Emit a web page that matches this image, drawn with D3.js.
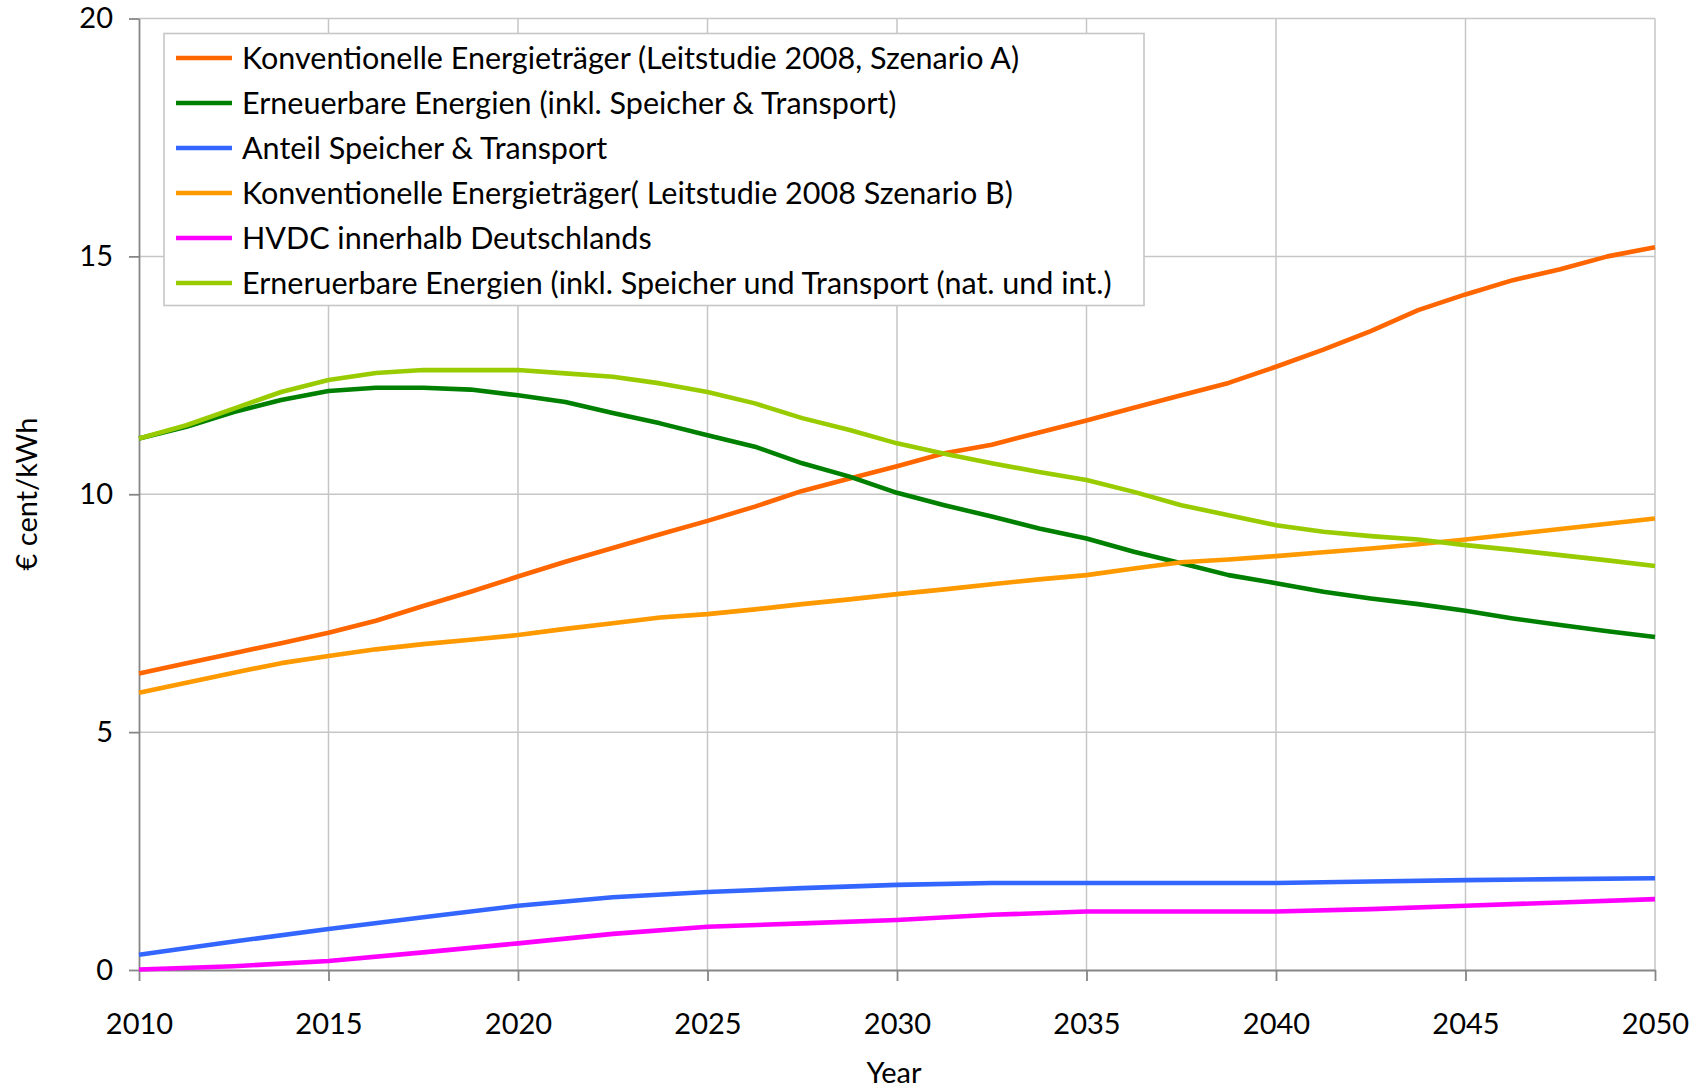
<html>
<head>
  <title>Stromgestehungskosten</title>
  <script src="https://d3js.org/d3.v7.min.js"></script>
</head>
<style>
  body { margin: 0; background: white; }
  text { font-family: Lato, "Open Sans", sans-serif; fill: #000; }
</style>
<body>
<svg width="1704" height="1088"></svg>
<script>

  // years every 1.25 years (x positions of the line vertices)
  let years = [2010, 2011.25, 2012.5, 2013.75, 2015, 2016.25, 2017.5, 2018.75,
    2020, 2021.25, 2022.5, 2023.75, 2025, 2026.25, 2027.5, 2028.75,
    2030, 2031.25, 2032.5, 2033.75, 2035, 2036.25, 2037.5, 2038.75,
    2040, 2041.25, 2042.5, 2043.75, 2045, 2046.25, 2047.5, 2048.75, 2050];

  // the two small series only bend every 2.5 years
  let yearsHalf = [2010, 2012.5, 2015, 2017.5, 2020, 2022.5, 2025, 2027.5,
    2030, 2032.5, 2035, 2037.5, 2040, 2042.5, 2045, 2047.5, 2050];

  let konvA = [6.23, 6.45, 6.66, 6.87, 7.09, 7.34, 7.65, 7.95, 8.27, 8.58, 8.87, 9.16,
    9.44, 9.74, 10.07, 10.33, 10.59, 10.86, 11.04, 11.30, 11.55, 11.82, 12.08, 12.34,
    12.68, 13.04, 13.43, 13.87, 14.20, 14.50, 14.73, 15.00, 15.19];

  let erneuerbar = [11.17, 11.42, 11.73, 11.98, 12.17, 12.24, 12.24, 12.20, 12.08, 11.94,
    11.71, 11.49, 11.24, 11.00, 10.65, 10.37, 10.03, 9.77, 9.53, 9.28, 9.07, 8.79,
    8.55, 8.30, 8.13, 7.95, 7.81, 7.69, 7.55, 7.39, 7.25, 7.12, 7.00];

  let speicher = [0.32, 0.60, 0.86, 1.11, 1.35, 1.53, 1.64, 1.72, 1.79, 1.83, 1.83,
    1.83, 1.83, 1.86, 1.89, 1.91, 1.93];

  let konvB = [5.83, 6.04, 6.25, 6.45, 6.60, 6.74, 6.85, 6.94, 7.04, 7.17, 7.29, 7.41,
    7.48, 7.58, 7.69, 7.79, 7.90, 8.00, 8.11, 8.21, 8.30, 8.44, 8.57, 8.63,
    8.70, 8.78, 8.86, 8.95, 9.05, 9.16, 9.27, 9.38, 9.49];

  let hvdc = [0.01, 0.08, 0.19, 0.37, 0.56, 0.76, 0.91, 0.98, 1.05, 1.16, 1.23,
    1.23, 1.23, 1.28, 1.35, 1.42, 1.49];

  let erneuerbarInt = [11.17, 11.45, 11.80, 12.15, 12.40, 12.55, 12.61, 12.61, 12.61, 12.54,
    12.47, 12.33, 12.15, 11.91, 11.60, 11.35, 11.07, 10.85, 10.65, 10.47, 10.30, 10.05,
    9.77, 9.56, 9.35, 9.21, 9.12, 9.05, 8.93, 8.83, 8.72, 8.61, 8.49];

  let seriesNames = [
    "Konventionelle Energieträger (Leitstudie 2008, Szenario A)",
    "Erneuerbare Energien (inkl. Speicher & Transport)",
    "Anteil Speicher & Transport",
    "Konventionelle Energieträger( Leitstudie 2008 Szenario B)",
    "HVDC innerhalb Deutschlands",
    "Erneruerbare Energien (inkl. Speicher und Transport (nat. und int.)"
  ];
  let seriesColors = ["#ff6600", "#008000", "#3366ff", "#ff9900", "#ff00ff", "#99cc00"];

  let xTicks = [2010, 2015, 2020, 2025, 2030, 2035, 2040, 2045, 2050];
  let yTicks = [0, 5, 10, 15, 20];

  let series = [
    {x: years, y: konvA},
    {x: years, y: erneuerbar},
    {x: yearsHalf, y: speicher},
    {x: years, y: konvB},
    {x: yearsHalf, y: hvdc},
    {x: years, y: erneuerbarInt}
  ].map((s, i) => ({
    name: seriesNames[i],
    color: seriesColors[i],
    values: s.x.map((yr, j) => ({year: yr, value: s.y[j]}))
  }));

  let svg = d3.select("svg"),
          g = svg.append("g");

  let xScale = d3.scaleLinear().domain([2010, 2050]).range([139, 1655]);
  let yScale = d3.scaleLinear().domain([0, 20]).range([970, 18.5]);

  // grid
  g.append("g").selectAll("line").data(yTicks.slice(1)).enter().append("line")
          .attr("x1", xScale(2010)).attr("x2", xScale(2050))
          .attr("y1", d => yScale(d)).attr("y2", d => yScale(d))
          .attr("stroke", "#c6c6c6").attr("stroke-width", 1.5);
  g.append("g").selectAll("line").data(xTicks.slice(1)).enter().append("line")
          .attr("x1", d => xScale(d)).attr("x2", d => xScale(d))
          .attr("y1", yScale(0)).attr("y2", yScale(20))
          .attr("stroke", "#c6c6c6").attr("stroke-width", 1.5);

  // axes
  let yAxis = g.append("g")
          .attr("transform", "translate(" + xScale(2010) + ",0)")
          .call(d3.axisLeft(yScale).tickValues(yTicks).tickSize(10).tickPadding(16).tickSizeOuter(0));
  let xAxis = g.append("g")
          .attr("transform", "translate(0," + yScale(0) + ")")
          .call(d3.axisBottom(xScale).tickValues(xTicks).tickFormat(d3.format("d"))
                  .tickSize(11).tickPadding(32).tickSizeOuter(0));

  [yAxis, xAxis].forEach(a => {
    a.select(".domain").attr("stroke", "#868686").attr("stroke-width", 1.8);
    a.selectAll(".tick line").attr("stroke", "#868686").attr("stroke-width", 1.8);
    a.selectAll("text").style("font-size", "29px").style("font-family", "Lato, sans-serif").attr("fill", "#000");
  });
  xAxis.selectAll("text").attr("dy", "0.71em");

  // lines
  let line = d3.line()
          .x(d => xScale(d.year))
          .y(d => yScale(d.value));

  g.append("g").selectAll("path").data(series).enter().append("path")
          .attr("d", d => line(d.values))
          .attr("fill", "none")
          .attr("stroke", d => d.color)
          .attr("stroke-width", 4.6)
          .attr("stroke-linejoin", "round");

  // axis titles
  svg.append("text")
          .attr("x", 894).attr("y", 1083)
          .attr("text-anchor", "middle")
          .style("font-size", "29px")
          .text("Year");
  svg.append("text")
          .attr("transform", "translate(37,494) rotate(-90)")
          .attr("text-anchor", "middle")
          .style("font-size", "29px")
          .text("€ cent/kWh");

  // legend
  let legend = svg.append("g");
  legend.append("rect")
          .attr("x", 164).attr("y", 33.5)
          .attr("width", 980).attr("height", 272)
          .attr("fill", "white")
          .attr("stroke", "#c6c6c6").attr("stroke-width", 1.6);

  let item = legend.selectAll("g.item").data(series).enter().append("g")
          .attr("class", "item")
          .attr("transform", (d, i) => "translate(0," + (58 + i * 45) + ")");
  item.append("line")
          .attr("x1", 176).attr("x2", 232)
          .attr("stroke", d => d.color).attr("stroke-width", 4.6);
  item.append("text")
          .attr("x", 242).attr("dy", "0.36em")
          .style("font-size", "30.5px")
          .text(d => d.name);

</script>
</body>
</html>
